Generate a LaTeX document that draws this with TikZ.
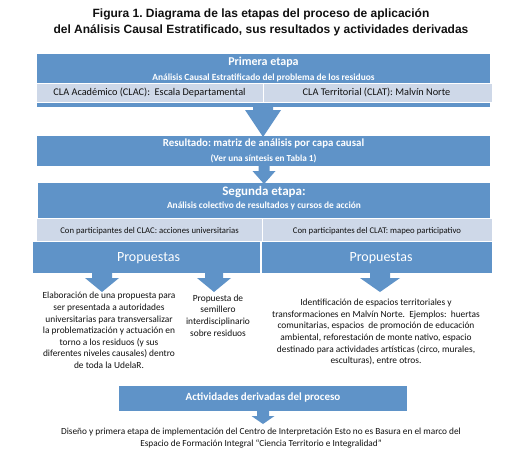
\documentclass[tikz,border=0pt]{standalone}
\usepackage{fontspec}
\setmainfont{Carlito}
\newfontfamily\arialf{Liberation Sans}
\frenchspacing
\definecolor{bluef}{HTML}{5F93C8}
\definecolor{lightf}{HTML}{CED8E8}
\definecolor{txt}{HTML}{101010}
\newcommand\blockdown[6]{% cx, ytop, yhead, ytip, shaft half, head half
  \fill[bluef] ({#1-#5},#2) -- ({#1+#5},#2) -- ({#1+#5},#3) -- ({#1+#6},#3)
    -- (#1,#4) -- ({#1-#6},#3) -- ({#1-#5},#3) -- cycle;}
\begin{document}
\begin{tikzpicture}[x=1pt,y=-1pt,
  rbox/.style={anchor=north west,inner sep=0pt,outer sep=0pt,fill=bluef},
  strip/.style={anchor=north west,inner sep=0pt,outer sep=0pt,fill=lightf,draw=white,line width=0.9pt},
  wt/.style={text=white,inner sep=0pt},
  dt/.style={text=txt,inner sep=0pt},
  body/.style={text=txt,inner sep=0pt,align=center,font=\fontsize{9.4}{11.6}\selectfont}]
\useasboundingbox (0,0) rectangle (529,474);

% title
\node[dt,font=\arialf\bfseries\fontsize{12}{14}\selectfont] (t1) at (261,14) {Figura 1. Diagrama de las etapas del proceso de aplicación};
\node[dt,font=\arialf\bfseries\fontsize{12}{14}\selectfont] (t2) at (261,30) {del Análisis Causal Estratificado, sus resultados y actividades derivadas};

% first stage
\node[rbox,minimum width=453pt,minimum height=53pt] (b1) at (37,54) {};
\node[strip,minimum width=227pt,minimum height=19pt] (s1a) at (36,83) {};
\node[strip,minimum width=229pt,minimum height=19pt] (s1b) at (263,83) {};
\node[wt,font=\bfseries\fontsize{12}{14}\selectfont] at (263.5,62) {Primera etapa};
\node[wt,font=\bfseries\fontsize{9.4}{11}\selectfont] at (263.5,78) {Análisis Causal Estratificado del problema de los residuos};
\node[dt,font=\fontsize{10.3}{12}\selectfont] at (149.5,92.5) {CLA Académico (CLAC):\ \ Escala Departamental};
\node[dt,font=\fontsize{10.3}{12}\selectfont] at (376.5,92.5) {CLA Territorial (CLAT): Malvín Norte};

% result
\node[rbox,minimum width=453pt,minimum height=30pt] (r) at (37,136) {};
\blockdown{263}{104}{110}{137}{10}{18}
\node[wt,font=\bfseries\fontsize{10.9}{12}\selectfont] at (263.5,143.5) {Resultado: matriz de análisis por capa causal};
\node[wt,font=\bfseries\fontsize{9.2}{10}\selectfont] at (263.5,159) {(Ver una síntesis en Tabla 1)};

% second stage
\blockdown{264}{166}{171}{184}{5.5}{11.5}
\node[rbox,minimum width=452pt,minimum height=36pt] (b2) at (38,183) {};
\node[strip,minimum width=226pt,minimum height=23pt] (s2a) at (36,218) {};
\node[strip,minimum width=230pt,minimum height=23pt] (s2b) at (262,218) {};
\node[wt,font=\bfseries\fontsize{13}{14}\selectfont] at (264,192) {Segunda etapa:};
\node[wt,font=\bfseries\fontsize{9.4}{11}\selectfont] at (264,206) {Análisis colectivo de resultados y cursos de acción};
\node[dt,font=\fontsize{8.7}{10}\selectfont] at (149.5,231.5) {Con participantes del CLAC: acciones universitarias};
\node[dt,font=\fontsize{8.7}{10}\selectfont] at (377,231.5) {Con participantes del CLAT: mapeo participativo};

% proposals
\node[rbox,minimum width=227pt,minimum height=31pt] (pL) at (33,242) {};
\node[rbox,minimum width=230pt,minimum height=31pt] (pR) at (262,242) {};
\node[wt,font=\fontsize{14}{16}\selectfont] at (148.5,258.5) {Propuestas};
\node[wt,font=\fontsize{14}{16}\selectfont] at (381,258.5) {Propuestas};
\blockdown{102}{272}{278}{292}{10}{17}
\blockdown{214}{272}{278}{292}{9}{17}
\blockdown{380}{272}{278}{292}{10}{20}

\node[body] (tl) at (109,330.5) {Elaboración de una propuesta para\\ser presentada a autoridades\\universitarias para transversalizar\\la problematización y actuación en\\torno a los residuos (y sus\\diferentes niveles causales) dentro\\de toda la UdelaR.};
\node[body] (tm) at (218,315.5) {Propuesta de\\semillero\\interdisciplinario\\sobre residuos};
\node[body] (tr) at (376,332) {Identificación de espacios territoriales y\\transformaciones en Malvín Norte.\ \ Ejemplos:\ \ huertas\\comunitarias, espacios\ \ de promoción de educación\\ambiental, reforestación de monte nativo, espacio\\destinado para actividades artísticas (circo, murales,\\esculturas), entre otros.};

% derived activities
\node[rbox,minimum width=288pt,minimum height=25pt] (act) at (119,386) {};
\node[wt,font=\bfseries\fontsize{11}{12}\selectfont] at (263,397.5) {Actividades derivadas del proceso};
\blockdown{263}{411}{416}{424}{6}{11.5}
\node[body,font=\fontsize{9.3}{12}\selectfont] (fin) at (261,438) {Diseño y primera etapa de implementación del Centro de Interpretación Esto no es Basura en el marco del\\Espacio de Formación Integral “Ciencia Territorio e Integralidad”};
\end{tikzpicture}
\end{document}
